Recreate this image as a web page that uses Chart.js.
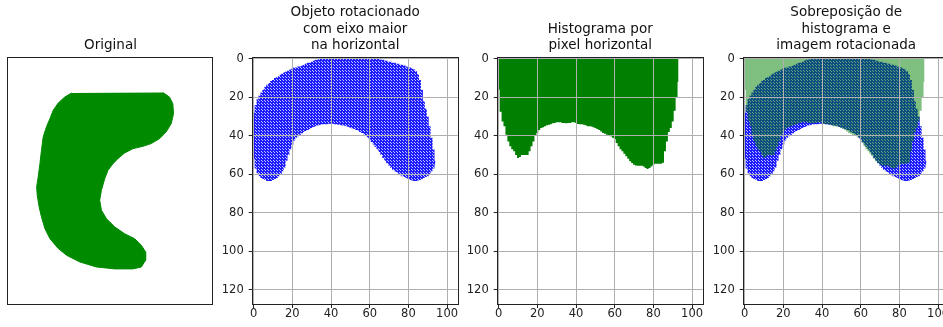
<!DOCTYPE html>
<html>
<head>
<meta charset="utf-8">
<script src="https://cdn.jsdelivr.net/npm/chart.js@4.4.0/dist/chart.umd.min.js"></script>
<style>
  body { margin: 0; background: #fff; width: 943px; height: 327px; overflow: hidden; position: relative; }
  canvas { position: absolute; top: 0; }
</style>
</head>
<body>
<canvas id="c1" width="221" height="327" style="left:0px"></canvas>
<canvas id="c2" width="274" height="327" style="left:218px"></canvas>
<canvas id="c3" width="274" height="327" style="left:463px"></canvas>
<canvas id="c4" width="274" height="327" style="left:709px"></canvas>
<script>
const xTicks = [0, 20, 40, 60, 80, 100];
const yTicks = [0, 20, 40, 60, 80, 100, 120];

// rotated object: first and last row of each pixel column (x = 0..94)
const objTop = [28, 24, 21, 19, 17.5, 16, 14.5, 13.5, 12.5, 11.5,
  11, 10, 9.5, 9, 8, 7.5, 7, 6.5, 6, 5.5,
  5, 4.5, 4.5, 4, 4, 3.5, 3, 2.5, 2, 2,
  1.5, 1, 0.5, 0.5, 0, 0, 0, 0, 0, 0,
  0, 0, 0, 0, 0, 0, 0, 0, 0, 0,
  0, 0, 0, 0, 0, 0, 0, 0, 0, 0,
  0, 0, 0, 0, 0, 0, 0.5, 0.5, 1, 1,
  1.5, 1.5, 2, 2, 2.5, 2.5, 3, 3, 3.5, 4,
  4.5, 4.5, 5, 5.5, 6.5, 8, 11, 16, 22, 26,
  30, 35, 41, 47, 53];
const objBottom = [52, 57, 59.5, 61, 62, 62.5, 63, 63.5, 63.5, 63.5,
  63, 62.5, 62, 61, 60, 58.5, 56.5, 53, 50, 47,
  44.5, 42.5, 41, 40.2, 39.5, 38.7, 38, 37.5, 37, 36.5,
  36, 35.5, 35, 34.7, 34.5, 34.2, 34, 34, 34, 33.8,
  33.8, 33.8, 34, 34.2, 34.3, 34.5, 34.6, 34.8, 35, 35.4,
  35.8, 36.2, 36.5, 37, 37.3, 38, 38.5, 39.2, 40, 41,
  42, 43.2, 44.5, 45.8, 47, 48.5, 50, 51.5, 53, 54.3,
  55.5, 56.6, 57.7, 58.4, 59, 59.8, 60.5, 61, 61.5, 62,
  62.5, 63, 63.3, 63.5, 63.5, 63.3, 63, 62.5, 62, 61.5,
  61, 60, 58.5, 57, 55];

// pixels per column (x = 0..93)
const histCounts = [16, 27.5, 32.5, 35, 39.5, 43, 45.5, 47, 48, 50,
  51.5, 51, 50, 50, 50, 50, 48, 45.5, 43, 40,
  38.5, 37, 36, 35.5, 35, 34.5, 34.3, 34, 33.5, 33.3,
  33, 33, 33, 33.3, 33.3, 33.5, 33.3, 33.3, 33, 33,
  33.3, 33.8, 34, 34, 34.3, 34.5, 35, 35, 35.2, 35.5,
  36, 36.5, 37, 37.8, 38.6, 39, 39.5, 40, 40.3, 41,
  41.7, 43.8, 45.5, 47, 48, 49.4, 50.7, 52, 53.3, 54.2,
  55, 55.4, 55.6, 55.6, 55.6, 56, 56.8, 57.3, 56.8, 56,
  55, 54.5, 54.5, 54.5, 54.5, 54, 48, 43, 38, 36,
  32.5, 27, 20, 12];

// outline of the original object
const origX = [79.7, 83.1, 84.8, 85.2, 84, 81.4, 78, 73.6, 69.3, 64.2, 59.8, 56.4, 53.8, 51.2, 49.5, 47.8,
  46.9, 47.8, 50.4, 54.7, 59.8, 65, 68.5, 70.7, 70.7, 68.5, 64.2, 54.7, 45.2, 36.6, 29.7, 25.4,
  21.1, 18.5, 16.7, 15.5, 14.5, 14.2, 15, 15.9, 16.7, 17.6, 19.3, 21.1, 22.8, 25.4, 28.8, 32.3];
const origY = [17.5, 19.8, 23.2, 28.4, 33.6, 37.9, 41.4, 44, 45.4, 46.6, 48.9, 51.8, 54.4, 57.9, 62.2, 68.2,
  73.4, 78.6, 83, 87.3, 90.8, 93.4, 96.8, 100.3, 104.6, 108.1, 109.1, 109.1, 108.1, 105.5, 102, 98.5,
  93.4, 88.2, 82.1, 76.9, 70.8, 66.5, 61.3, 54.4, 47.5, 40.5, 35.3, 31, 26.7, 22.9, 19.8, 17.7];

const FONT = 'DejaVu Sans';
const pts = (ys) => ys.map((y, i) => ({x: i, y: y}));

// blue dots with light gaps, like the scatter in the picture
function bluePattern() {
  const c = document.createElement('canvas');
  c.width = 3; c.height = 3;
  const g = c.getContext('2d');
  g.fillStyle = '#1c1cff';
  g.fillRect(0, 0, 3, 3);
  g.fillStyle = '#c4c4ff';
  g.fillRect(1, 1, 1, 1);
  g.fillRect(2, 2, 1, 1);
  return g.createPattern(c, 'repeat');
}
const blue = bluePattern();

const framePlugin = {
  id: 'frame',
  afterDraw(chart) {
    const a = chart.chartArea, ctx = chart.ctx;
    ctx.save();
    ctx.strokeStyle = '#222';
    ctx.lineWidth = 1;
    ctx.strokeRect(Math.round(a.left) - 0.5, Math.round(a.top) - 0.5,
      Math.round(a.right - a.left) + 1, Math.round(a.bottom - a.top) + 1);
    ctx.restore();
  }
};

function titleOpts(lines) {
  return {
    display: true,
    text: lines,
    fullSize: false,
    color: '#111',
    font: {family: FONT, size: 13.5, weight: 'normal', lineHeight: 1.22},
    padding: {top: 58 - 3.75 - lines.length * 16.5, bottom: 3.75}
  };
}

function axisScales() {
  const grid = {color: '#b0b0b0', lineWidth: 1, z: 1, drawTicks: true, tickLength: 4, tickColor: '#222', tickWidth: 1};
  const tickFont = {family: FONT, size: 11.5};
  return {
    x: {
      type: 'linear', min: -0.5, max: 105.5,
      afterBuildTicks: s => { s.ticks = xTicks.map(v => ({value: v})); },
      afterFit: s => { s.height = 23; },
      grid: grid, border: {display: false},
      ticks: {color: '#222', font: tickFont, padding: -1, maxRotation: 0}
    },
    y: {
      type: 'linear', reverse: true, min: -0.5, max: 127.5,
      afterBuildTicks: s => { s.ticks = yTicks.map(v => ({value: v})); },
      afterFit: s => { s.width = 34.7; },
      grid: grid, border: {display: false},
      ticks: {color: '#222', font: tickFont, padding: 5}
    }
  };
}

function baseOptions(lines, scales, padding) {
  return {
    responsive: false,
    animation: false,
    layout: {padding: padding},
    scales: scales,
    plugins: {legend: {display: false}, tooltip: {enabled: false}, title: titleOpts(lines)},
    elements: {point: {radius: 0}, line: {tension: 0, borderWidth: 0}}
  };
}

function objectSets() {
  return [
    {data: pts(objTop), stepped: 'middle', fill: false, borderWidth: 0, order: 1},
    {data: pts(objBottom), stepped: 'middle', fill: '-1', backgroundColor: blue, borderWidth: 0, order: 1}
  ];
}

// 1: original
new Chart(document.getElementById('c1'), {
  type: 'line',
  data: {datasets: [{
    data: origX.map((x, i) => ({x: x, y: origY[i]})),
    fill: 'shape', backgroundColor: '#008a00', borderColor: '#008a00', borderWidth: 1
  }]},
  options: baseOptions(['Original'], {
    x: {type: 'linear', display: false, min: -0.5, max: 105.5},
    y: {type: 'linear', display: false, reverse: true, min: -0.5, max: 127.5}
  }, {left: 8.3, right: 8.3, bottom: 22.7}),
  plugins: [framePlugin]
});

// 2: rotated object
new Chart(document.getElementById('c2'), {
  type: 'line',
  data: {datasets: objectSets()},
  options: baseOptions(['Objeto rotacionado', 'com eixo maior', 'na horizontal'], axisScales(), {right: 34.3}),
  plugins: [framePlugin]
});

// 3: histogram
new Chart(document.getElementById('c3'), {
  type: 'line',
  data: {datasets: [
    {data: pts(histCounts), stepped: 'middle', fill: 'origin', backgroundColor: '#007f00', borderWidth: 0}
  ]},
  options: baseOptions(['Histograma por', 'pixel horizontal'], axisScales(), {right: 34.3}),
  plugins: [framePlugin]
});

// 4: overlay
new Chart(document.getElementById('c4'), {
  type: 'line',
  data: {datasets: objectSets().concat([
    {data: pts(histCounts), stepped: 'middle', fill: 'origin', backgroundColor: 'rgba(0,128,0,0.5)', borderWidth: 0, order: 0}
  ])},
  options: baseOptions(['Sobreposição de', 'histograma e', 'imagem rotacionada'], axisScales(), {right: 34.3}),
  plugins: [framePlugin]
});
</script>
</body>
</html>
